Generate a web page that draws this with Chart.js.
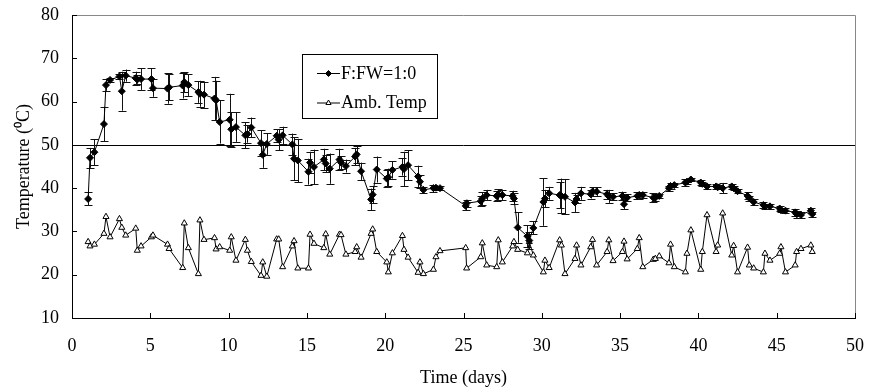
<!DOCTYPE html>
<html>
<head>
<meta charset="utf-8">
<script src="https://cdn.jsdelivr.net/npm/chart.js@4.4.1/dist/chart.umd.min.js"></script>
<style>
    html, body { margin: 0; padding: 0; background: #fff; }
    #wrap { width: 870px; height: 389px; }
</style>
</head>
<body>
<div id="wrap"><canvas id="tempChart"></canvas></div>
<script>
// sampling times (days), three readings a day
const days = [
    1.03, 1.15, 1.43, 2.04, 2.17, 2.43, 3.03, 3.18, 3.43, 4.07, 4.17, 4.41,
    5.07, 5.17, 6.10, 6.20, 7.07, 7.17, 7.43, 8.07, 8.17, 8.43, 9.10, 9.20, 9.43,
    10.07, 10.17, 10.47, 11.07, 11.20, 11.45, 12.07, 12.18, 12.44, 13.07, 13.20, 13.45,
    14.07, 14.18, 14.42, 15.10, 15.20, 15.45, 16.08, 16.20, 16.46, 17.08, 17.18, 17.49,
    18.08, 18.18, 18.46, 19.10, 19.20, 19.46, 20.10, 20.20, 20.46, 21.10, 21.20, 21.46,
    22.10, 22.22, 22.44, 23.08, 23.24, 23.50, 25.14, 25.20, 26.10, 26.20, 26.48,
    27.12, 27.22, 27.48, 28.14, 28.22, 28.46, 29.08, 29.20, 29.46, 30.10, 30.20, 30.47,
    31.14, 31.25, 31.48, 32.12, 32.22, 32.50, 33.12, 33.24, 33.50, 34.17, 34.28, 34.55,
    35.15, 35.25, 35.45, 36.10, 36.22, 36.45, 37.12, 37.25, 37.50, 38.12, 38.22, 38.46,
    39.17, 39.27, 39.52, 40.15, 40.25, 40.55, 41.13, 41.23, 41.55, 42.13, 42.25, 42.50,
    43.14, 43.25, 43.53, 44.15, 44.25, 44.57, 45.19, 45.27, 45.56, 46.18, 46.27, 46.55,
    47.18, 47.27
];

// F:FW=1:0 pile temperature
const compost = [
    37.5, 47.0, 48.3, 54.8, 63.8, 65.0, 65.8, 62.4, 66.0, 65.4, 65.1, 65.2,
    65.2, 63.1, 63.0, 63.3, 63.7, 64.5, 63.8, 62.2, 61.8, 61.6, 60.7, 60.3, 55.3,
    55.8, 53.6, 54.1, 52.2, 52.5, 54.0, 50.4, 47.7, 50.2, 52.1, 51.2, 52.2,
    50.1, 46.8, 46.4, 43.8, 45.9, 44.9, 46.6, 45.7, 44.5, 46.6, 45.9, 45.1,
    47.3, 47.8, 43.9, 37.4, 38.5, 44.3, 42.2, 42.5, 44.2, 44.9, 44.4, 45.3,
    42.7, 41.5, 39.6, 40.0, 40.1, 40.0, 35.9, 36.5, 37.0, 37.6, 38.4,
    38.2, 38.5, 38.4, 38.2, 37.6, 30.9, 28.9, 27.9, 30.8, 36.8, 37.6, 38.8,
    38.4, 38.2, 38.0, 36.7, 37.5, 38.8, 38.6, 39.2, 39.2, 38.6, 38.1, 38.0,
    38.2, 36.3, 37.8, 38.2, 38.4, 38.4, 37.8, 37.8, 38.2, 40.0, 40.5, 40.7,
    41.3, 41.5, 42.0, 41.3, 41.0, 40.4, 40.4, 40.2, 40.0, 40.4, 40.0, 39.3,
    38.2, 37.7, 36.8, 36.1, 35.8, 35.8, 35.3, 34.9, 34.8, 34.4, 34.0, 33.8,
    34.8, 34.0
];

// +/- error on the pile temperature
const compostErr = [
    1.5, 2.3, 3.0, 4.0, 1.3, 0.5, 0.6, 4.5, 1.4, 1.5, 1.0, 2.5,
    2.5, 2.0, 3.5, 3.0, 3.0, 2.3, 2.5, 2.5, 3.0, 3.0, 5.0, 4.5, 5.0,
    6.0, 4.0, 3.4, 3.0, 2.0, 2.3, 3.0, 3.0, 2.5, 1.5, 2.5, 2.0,
    2.5, 5.0, 5.0, 3.0, 2.5, 4.0, 2.5, 2.0, 3.5, 2.5, 1.5, 1.5,
    2.0, 2.0, 2.0, 2.5, 2.0, 3.0, 2.0, 2.0, 2.0, 2.0, 4.0, 3.5,
    2.5, 1.5, 0.7, 0.8, 0.5, 0.5, 1.0, 0.8, 1.2, 1.5, 1.2,
    1.2, 1.2, 1.2, 1.2, 1.2, 3.5, 2.5, 2.0, 1.5, 5.5, 2.0, 1.5,
    3.0, 4.0, 4.0, 2.2, 1.0, 1.5, 1.0, 1.0, 1.0, 1.0, 1.5, 0.8,
    1.0, 1.2, 0.8, 0.8, 0.8, 0.6, 1.0, 0.8, 0.5, 0.6, 0.6, 0.5,
    0.8, 0.6, 0.4, 0.5, 0.5, 0.5, 0.5, 0.5, 1.2, 0.6, 0.5, 0.5,
    0.8, 0.6, 0.6, 0.6, 0.6, 0.6, 0.5, 0.5, 0.5, 0.8, 0.8, 0.8,
    0.6, 0.6
];

// ambient temperature
const ambient = [
    27.6, 26.6, 27.0, 29.5, 33.4, 28.7, 32.9, 30.9, 29.1, 30.7, 25.6, 26.6,
    28.7, 29.1, 27.0, 26.0, 21.6, 31.9, 26.2, 20.2, 32.6, 28.1, 28.5, 25.9, 26.4,
    25.6, 28.7, 23.3, 28.1, 25.6, 23.0, 19.8, 22.9, 19.6, 28.2, 28.2, 21.8,
    26.6, 27.8, 21.5, 21.5, 29.3, 27.2, 26.2, 29.4, 24.7, 29.3, 29.2, 24.7,
    25.3, 26.4, 24.0, 29.5, 30.5, 25.3, 22.9, 20.6, 25.0, 29.0, 25.8, 24.0,
    20.5, 22.9, 20.2, 21.2, 24.1, 25.5, 26.2, 21.5, 24.1, 27.3, 22.2,
    21.8, 28.0, 22.9, 26.6, 27.6, 25.8, 25.0, 27.6, 24.5, 20.6, 23.3, 21.6,
    28.0, 26.8, 20.2, 23.7, 26.8, 22.2, 26.4, 28.1, 22.2, 25.3, 28.0, 23.2,
    25.3, 27.7, 23.6, 26.0, 28.5, 21.8, 23.5, 23.7, 24.3, 22.7, 27.0, 21.8,
    20.6, 24.9, 30.3, 21.2, 25.3, 33.8, 25.3, 26.8, 34.2, 24.5, 26.7, 20.6,
    26.3, 22.2, 21.5, 20.6, 24.9, 23.3, 24.9, 26.4, 20.6, 22.2, 25.3, 26.0,
    26.8, 25.3
];

const xTicks = [0, 5, 10, 15, 20, 25, 30, 35, 40, 45, 50];
const yTicks = [10, 20, 30, 40, 50, 60, 70, 80];
const refLine = 50;
const seriesNames = ['F:FW=1:0', 'Amb. Temp'];

const serif = '"Liberation Serif", "Times New Roman", serif';

// frame, inside ticks, 50 degree line and error bars
const extras = {
    id: 'extras',
    beforeDatasetsDraw(chart) {
        const { ctx, chartArea: a, scales: { x, y } } = chart;
        ctx.save();
        ctx.lineWidth = 1;

        ctx.strokeStyle = '#888';
        ctx.beginPath();
        ctx.moveTo(a.left, a.top + 0.5);
        ctx.lineTo(a.right + 0.5, a.top + 0.5);
        ctx.lineTo(a.right + 0.5, a.bottom);
        ctx.stroke();

        ctx.strokeStyle = '#000';
        ctx.beginPath();
        yTicks.forEach(v => {
            const py = Math.round(y.getPixelForValue(v)) + 0.5;
            ctx.moveTo(a.left, py);
            ctx.lineTo(a.left + 5, py);
        });
        xTicks.forEach(v => {
            const px = Math.round(x.getPixelForValue(v)) + 0.5;
            ctx.moveTo(px, a.bottom);
            ctx.lineTo(px, a.bottom - 5);
        });
        ctx.stroke();

        const ry = Math.round(y.getPixelForValue(refLine)) + 0.5;
        ctx.beginPath();
        ctx.moveTo(a.left, ry);
        ctx.lineTo(a.right, ry);
        ctx.stroke();

        ctx.strokeStyle = '#111';
        ctx.beginPath();
        days.forEach((d, i) => {
            const px = Math.round(x.getPixelForValue(d)) + 0.5;
            const top = y.getPixelForValue(compost[i] + compostErr[i]);
            const bot = y.getPixelForValue(compost[i] - compostErr[i]);
            ctx.moveTo(px, top);
            ctx.lineTo(px, bot);
            ctx.moveTo(px - 4, Math.round(top) + 0.5);
            ctx.lineTo(px + 4, Math.round(top) + 0.5);
            ctx.moveTo(px - 4, Math.round(bot) + 0.5);
            ctx.lineTo(px + 4, Math.round(bot) + 0.5);
        });
        ctx.stroke();
        ctx.restore();
    },
    afterDraw(chart) {
        const ctx = chart.ctx;
        const box = { left: 302, top: 54, width: 135, height: 64 };
        ctx.save();
        ctx.fillStyle = '#fff';
        ctx.fillRect(box.left, box.top, box.width, box.height);
        ctx.strokeStyle = '#000';
        ctx.lineWidth = 1;
        ctx.strokeRect(box.left + 0.5, box.top + 0.5, box.width, box.height);

        chart.data.datasets.forEach((ds, i) => {
            const cy = box.top + 19 + i * 29.5;
            ctx.strokeStyle = '#000';
            ctx.beginPath();
            ctx.moveTo(box.left + 15, cy + 0.5);
            ctx.lineTo(box.left + 38, cy + 0.5);
            ctx.stroke();
            ctx.fillStyle = ds.pointBackgroundColor;
            ctx.strokeStyle = '#000';
            ctx.lineWidth = 1;
            Chart.helpers.drawPoint(ctx, {
                pointStyle: ds.pointStyle,
                radius: ds.pointRadius - 0.5,
                rotation: 0,
                borderWidth: 1
            }, box.left + 26.5, cy + 0.5);
            ctx.fillStyle = '#000';
            ctx.font = '18px ' + serif;
            ctx.textBaseline = 'middle';
            ctx.fillText(ds.label, box.left + 39, cy + 1);
        });
        ctx.restore();
    }
};

new Chart(document.getElementById('tempChart'), {
    type: 'line',
    data: {
        datasets: [
            {
                label: seriesNames[0],
                data: days.map((d, i) => ({ x: d, y: compost[i] })),
                borderColor: '#000',
                borderWidth: 1,
                pointStyle: 'rectRot',
                pointRadius: 3.5,
                pointBackgroundColor: '#000',
                pointBorderColor: '#000',
                pointBorderWidth: 1,
                tension: 0
            },
            {
                label: seriesNames[1],
                data: days.map((d, i) => ({ x: d, y: ambient[i] })),
                borderColor: '#000',
                borderWidth: 1,
                pointStyle: 'triangle',
                pointRadius: 3.5,
                pointBackgroundColor: '#fff',
                pointBorderColor: '#000',
                pointBorderWidth: 1,
                tension: 0
            }
        ]
    },
    plugins: [extras],
    options: {
        responsive: true,
        maintainAspectRatio: false,
        animation: false,
        layout: { padding: { top: 15, right: 15, left: 0, bottom: 0 } },
        plugins: {
            legend: { display: false },
            tooltip: { enabled: false }
        },
        scales: {
            x: {
                type: 'linear',
                min: 0,
                max: 50,
                ticks: {
                    stepSize: 5,
                    color: '#000',
                    padding: 9,
                    maxRotation: 0,
                    font: { family: serif, size: 18 }
                },
                grid: { display: false },
                border: { display: true, color: '#000', width: 1 },
                title: {
                    display: true,
                    text: 'Time (days)',
                    color: '#000',
                    font: { family: serif, size: 18 },
                    padding: { top: 0, bottom: 0 }
                },
                afterFit(scale) {
                    scale.height = 71;
                    scale.paddingLeft = 0;
                    scale.paddingRight = 0;
                }
            },
            y: {
                min: 10,
                max: 80,
                ticks: {
                    stepSize: 10,
                    color: '#000',
                    padding: 5,
                    font: { family: serif, size: 18 }
                },
                grid: { display: false },
                border: { display: true, color: '#000', width: 1 },
                title: {
                    display: true,
                    text: 'Temperature (\u2070C)',
                    color: '#000',
                    font: { family: serif, size: 18 },
                    padding: { top: 13, bottom: 0 }
                },
                afterFit(scale) {
                    scale.width = 72;
                    scale.paddingTop = 0;
                    scale.paddingBottom = 0;
                }
            }
        }
    }
});
</script>
</body>
</html>
